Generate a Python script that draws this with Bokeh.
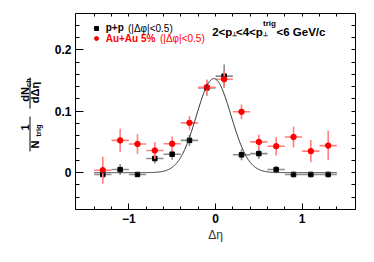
import math
import numpy as np
from bokeh.plotting import figure
from bokeh.layouts import row
from bokeh.models import Range1d, FixedTicker, LinearAxis, Label, Legend, LegendItem
from bokeh.core.properties import value
from bokeh.embed import file_html
from bokeh.resources import INLINE

# ---------------- data ----------------
deta = [-1.3, -1.1, -0.9, -0.7, -0.5, -0.3, -0.1, 0.1, 0.3, 0.5, 0.7, 0.9, 1.1, 1.3]
deta_err = [0.1] * 14
pp = [-0.003, 0.005, -0.003, 0.023, 0.030, 0.0525, 0.138, 0.157, 0.029, 0.031, 0.005, -0.003, -0.003, -0.003]
pp_err = [0.006, 0.009, 0.004, 0.008, 0.009, 0.009, 0.013, 0.019, 0.009, 0.009, 0.006, 0.005, 0.005, 0.005]
auau = [0.004, 0.0525, 0.0466, 0.036, 0.047, 0.081, 0.139, 0.152, 0.099, 0.050, 0.043, 0.058, 0.035, 0.044]
auau_err = [0.022, 0.019, 0.016, 0.0135, 0.012, 0.011, 0.012, 0.013, 0.012, 0.012, 0.015, 0.017, 0.018, 0.024]

# Gaussian fit to p+p
fit_amp = 0.153
fit_mean = -0.02
fit_sigma = 0.20
fit_range = [-1.4, 1.4]

x_major = [-1, 0, 1]
x_minor = [-1.4, -1.2, -0.8, -0.6, -0.4, -0.2, 0.2, 0.4, 0.6, 0.8, 1.2, 1.4]
y_major = [0, 0.1, 0.2]
y_major_labels = {0: "0", 0.1: "0.1", 0.2: "0.2"}
y_minor = [-0.06, -0.04, -0.02, 0.02, 0.04, 0.06, 0.08, 0.12, 0.14, 0.16, 0.18, 0.22, 0.24]

FONT = "Liberation Sans"
W, H = 374, 262
LW = 48                      # width of the y-label strip
FL, FR, FT, FB = 75, 355, 13, 209   # frame edges in page pixels

# ---------------- y-axis title strip (frame aligned with main frame: page y 13..209) ----------------
ylab = figure(width=LW, height=H, output_backend="svg", toolbar_location=None,
              x_range=Range1d(0, LW), y_range=Range1d(FB, FT),
              min_border=0, min_border_left=0, min_border_right=0,
              min_border_top=FT, min_border_bottom=H - FB,
              x_axis_type=None, y_axis_type=None)
ylab.grid.visible = False
ylab.outline_line_color = None
A = math.pi / 2
big = dict(x=[24.0, 34.0, 24.0, 34.0], y=[127.0, 144.0, 94.0, 92.0], text=["1", "N", "dN", "dΔη"])
small = dict(x=[38.0, 28.0], y=[130.0, 82.0], text=["trig", "ch"])
ylab.text(x="x", y="y", text="text", source=big, angle=A, text_font=value(FONT),
          text_font_size="11px", text_font_style="bold", text_align="center",
          text_baseline="middle", text_color="black")
ylab.text(x="x", y="y", text="text", source=small, angle=A, text_font=value(FONT),
          text_font_size="7.5px", text_font_style="bold", text_align="center",
          text_baseline="middle", text_color="black")
ylab.segment(x0=[29.5, 29.5], y0=[116, 77], x1=[29.5, 29.5], y1=[151, 108], line_color="black", line_width=1)

# ---------------- main plot ----------------
p = figure(width=W - LW, height=H, output_backend="svg", toolbar_location=None,
           x_range=Range1d(-1.615, 1.615), y_range=Range1d(-0.06, 0.259),
           min_border_left=FL - LW, min_border_right=W - FR, min_border_top=FT,
           min_border_bottom=H - FB, x_axis_type=None, y_axis_type=None)
p.grid.visible = False
p.outline_line_color = None

xt = FixedTicker(ticks=x_major, minor_ticks=x_minor)
yt = FixedTicker(ticks=y_major, minor_ticks=y_minor)


def style_axis(ax, tin, min_in, show):
    ax.major_tick_in = tin
    ax.major_tick_out = 0
    ax.minor_tick_in = min_in
    ax.minor_tick_out = 0
    ax.axis_line_color = "black"
    ax.major_tick_line_color = "black"
    ax.minor_tick_line_color = "black"
    if show:
        ax.major_label_text_font = FONT
        ax.major_label_text_font_style = "bold"
        ax.major_label_text_font_size = "12px"
        ax.major_label_text_color = "black"
        ax.major_label_standoff = 4


xb = LinearAxis(ticker=xt, axis_label="Δη")
style_axis(xb, 6, 3, True)
xb.axis_label_text_font = FONT
xb.axis_label_text_font_style = "normal"
xb.axis_label_text_font_size = "12px"
xb.axis_label_text_color = "#333333"
xb.axis_label_standoff = 2
p.add_layout(xb, "below")

yl = LinearAxis(ticker=yt, major_label_overrides=y_major_labels)
style_axis(yl, 8, 4, True)
p.add_layout(yl, "left")

# mirrored tick marks (no labels): majors drawn as long "minor" ticks
xa = LinearAxis(ticker=FixedTicker(ticks=[], minor_ticks=x_major + x_minor))
style_axis(xa, 6, 3, False)
p.add_layout(xa, "above")

yr = LinearAxis(ticker=FixedTicker(ticks=[], minor_ticks=y_major + y_minor))
style_axis(yr, 8, 4, False)
p.add_layout(yr, "right")

# ---------------- data marks ----------------
x = np.array(deta)
xe = np.array(deta_err)
ypp = np.array(pp)
epp = np.array(pp_err)
yaa = np.array(auau)
eaa = np.array(auau_err)

p.segment(x - xe, ypp, x + xe, ypp, line_color="#8c8c8c", line_width=1.6)
p.segment(x, ypp - epp, x, ypp + epp, line_color="#8c8c8c", line_width=1.6)
pp_r = p.scatter(x, ypp, marker="square", size=4.5, fill_color="black", line_color="black")

p.segment(x - xe, yaa, x + xe, yaa, line_color="#ff8080", line_width=1.6)
p.segment(x, yaa - eaa, x, yaa + eaa, line_color="#ff8080", line_width=1.6)
aa_r = p.scatter(x, yaa, marker="circle", size=5.5, fill_color="red", line_color="red")

xf = np.linspace(fit_range[0], fit_range[1], 400)
yf = fit_amp * np.exp(-0.5 * ((xf - fit_mean) / fit_sigma) ** 2)
p.line(xf, yf, line_color="#333333", line_width=1)


# ---------------- annotations (screen positions relative to frame) ----------------
def lab(text, px, py, size, bold=True, color="black", baseline="alphabetic"):
    p.add_layout(Label(x=px - FL, y=FB - py, x_units="screen", y_units="screen", text=text,
                       text_font=FONT, text_font_size=f"{size}px",
                       text_font_style="bold" if bold else "normal", text_color=color,
                       text_align="left", text_baseline=baseline))


def make_legend(label, rend, color, row_y):
    leg = Legend(items=[LegendItem(label=label, renderers=[rend])],
                 location=(90.7 - FL, FB - row_y - 6), orientation="vertical",
                 label_text_font=FONT, label_text_font_size="10px", label_text_font_style="bold",
                 label_text_color=color, label_text_baseline="middle",
                 glyph_width=10, glyph_height=12, label_height=12, label_standoff=5,
                 padding=0, margin=0, spacing=0, border_line_color=None,
                 background_fill_alpha=0)
    p.add_layout(leg)


make_legend("p+p", pp_r, "black", 27.7)
make_legend("Au+Au 5%", aa_r, "red", 38.3)
lab("(|Δφ|<0.5)", 127.5, 27.7, 10, bold=False, baseline="middle")
lab("(|Δφ|<0.5)", 159.5, 38.3, 10, bold=False, color="red", baseline="middle")

# title: 2<p⊥<4<p⊥^trig<6 GeV/c
lab("2<p", 211.7, 31.7, 11.5)
lab("⊥", 231.8, 33.5, 6)
lab("<4<p", 235.5, 31.7, 11.5)
lab("trig", 262.5, 23.0, 8)
lab("⊥", 262.5, 33.5, 6)
lab("<6 GeV/c", 276.0, 31.7, 11.5)

open("out.html", "w").write(file_html(row(ylab, p), INLINE))
